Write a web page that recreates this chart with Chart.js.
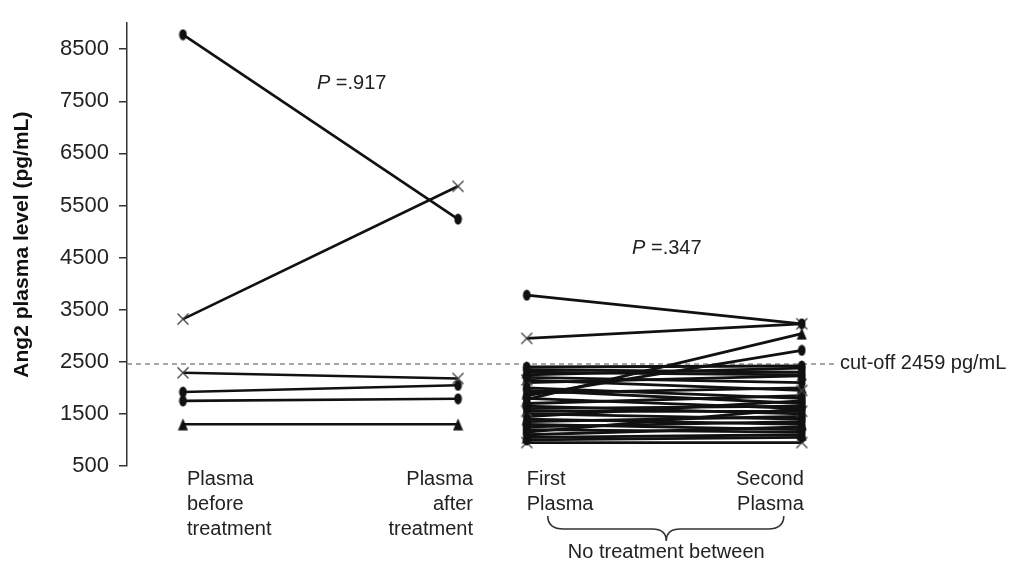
<!DOCTYPE html>
<html><head><meta charset="utf-8">
<script src="https://cdn.jsdelivr.net/npm/chart.js@4.4.1/dist/chart.umd.min.js"></script>
<style>html,body{margin:0;padding:0;background:#fff;}#wrap{width:1014px;height:569px;position:relative;}</style>
</head><body><div id="wrap"><canvas id="c"></canvas></div>
<script>
// ---- data ----
const yTicks = [500, 1500, 2500, 3500, 4500, 5500, 6500, 7500, 8500];
const timePoints = [0, 1, 1.25, 2.25]; // before, after, first, second
const catLabels = [['Plasma', 'before', 'treatment'], ['Plasma', 'after', 'treatment'], ['First', 'Plasma'], ['Second', 'Plasma']];
const cutoff = 2459;
const g1Before = [8780, 3320, 2290, 1920, 1750, 1300];
const g1After  = [5240, 5870, 2180, 2050, 1790, 1300];
const g1Markers = ['oval', 'cross', 'cross', 'oval', 'oval', 'triangle'];
const g2First  = [3780, 2950, 1780, 1850, 2400, 2350, 2300, 2250, 2200, 2150, 2100, 2000, 1950, 1900, 1800, 1700, 1650, 1600, 1550, 1500, 1450, 1400, 1350, 1300, 1250, 1200, 1150, 1100, 1050, 1000, 950];
const g2Second = [3230, 3230, 3040, 2720, 2420, 2300, 2250, 2380, 2100, 1950, 2230, 1800, 1700, 2000, 1600, 1850, 1500, 1650, 1550, 1400, 1750, 1300, 1450, 1200, 1350, 1150, 1600, 1250, 1100, 1050, 950];
const g2Markers = ['oval', 'cross', 'triangle', 'oval', 'oval', 'oval', 'triangle', 'oval', 'oval', 'cross', 'oval', 'oval', 'oval', 'triangle', 'oval', 'oval', 'oval', 'oval', 'cross', 'oval', 'oval', 'triangle', 'oval', 'oval', 'oval', 'oval', 'oval', 'oval', 'triangle', 'oval', 'cross'];
const pLabels = ['.917', '.347'];

// ---- marker images ----
function makeMarker(kind) {
  const c = document.createElement('canvas');
  if (kind === 'oval') {
    c.width = 9; c.height = 12;
    const g = c.getContext('2d');
    g.fillStyle = '#111';
    g.beginPath(); g.ellipse(4.5, 6, 3.8, 5.5, 0, 0, Math.PI * 2); g.fill();
  } else if (kind === 'triangle') {
    c.width = 11; c.height = 13;
    const g = c.getContext('2d');
    g.fillStyle = '#111';
    g.beginPath(); g.moveTo(5.5, 0.5); g.lineTo(10.5, 12.5); g.lineTo(0.5, 12.5); g.closePath(); g.fill();
  } else {
    c.width = 14; c.height = 14;
    const g = c.getContext('2d');
    g.strokeStyle = '#444'; g.lineWidth = 1.4;
    g.beginPath(); g.moveTo(1.5, 1.5); g.lineTo(12.5, 12.5); g.moveTo(12.5, 1.5); g.lineTo(1.5, 12.5); g.stroke();
  }
  return c;
}
const markerImgs = { oval: makeMarker('oval'), triangle: makeMarker('triangle'), cross: makeMarker('cross') };

const datasets = [];
g1Before.forEach((v, i) => datasets.push({
  data: [{ x: timePoints[0], y: v }, { x: timePoints[1], y: g1After[i] }],
  borderColor: '#111', borderWidth: 2.6, pointStyle: markerImgs[g1Markers[i]], pointRadius: 4, tension: 0
}));
g2First.forEach((v, i) => datasets.push({
  data: [{ x: timePoints[2], y: v }, { x: timePoints[3], y: g2Second[i] }],
  borderColor: '#111', borderWidth: 2.8, pointStyle: markerImgs[g2Markers[i]], pointRadius: 4, tension: 0
}));

const FONT = '"Liberation Sans", Arial, sans-serif';

const decor = {
  id: 'decor',
  beforeDatasetsDraw(chart) {
    const { ctx, chartArea, scales } = chart;
    const y = scales.y.getPixelForValue(cutoff);
    ctx.save();
    ctx.strokeStyle = '#8a8a8a'; ctx.lineWidth = 1.5; ctx.setLineDash([5, 4]);
    ctx.beginPath(); ctx.moveTo(chartArea.left, y); ctx.lineTo(chartArea.right, y); ctx.stroke();
    ctx.restore();
  },
  afterDraw(chart) {
    const { ctx, chartArea, scales } = chart;
    const xs = scales.x, ys = scales.y;
    ctx.save();
    ctx.fillStyle = '#222';
    ctx.font = '20px ' + FONT;
    ctx.textBaseline = 'middle';
    ctx.textAlign = 'left';
    ctx.fillText('cut-off ' + cutoff + ' pg/mL', chartArea.right + 4, ys.getPixelForValue(cutoff));

    // P values
    ctx.textBaseline = 'alphabetic';
    const pPos = [[0.487, 7740], [1.633, 4570]];
    pLabels.forEach((t, i) => {
      const px = xs.getPixelForValue(pPos[i][0]), py = ys.getPixelForValue(pPos[i][1]);
      ctx.font = 'italic 20px ' + FONT;
      ctx.fillText('P', px, py);
      const w = ctx.measureText('P').width;
      ctx.font = '20px ' + FONT;
      ctx.fillText(' =' + t, px + w, py);
    });

    // category labels
    const offs = [4, 15, 0, 2];
    const aligns = ['left', 'right', 'left', 'right'];
    ctx.font = '20px ' + FONT;
    catLabels.forEach((lines, i) => {
      ctx.textAlign = aligns[i];
      const px = xs.getPixelForValue(timePoints[i]) + offs[i];
      lines.forEach((l, j) => ctx.fillText(l, px, chartArea.bottom + 19 + j * 25));
    });

    // brace
    const x1 = xs.getPixelForValue(timePoints[2]) + 21;
    const x2 = xs.getPixelForValue(timePoints[3]) - 18;
    const xm = (xs.getPixelForValue(timePoints[2]) + xs.getPixelForValue(timePoints[3])) / 2 + 2;
    const yTop = chartArea.bottom + 50, yMid = chartArea.bottom + 63, yTip = chartArea.bottom + 75;
    ctx.strokeStyle = '#333'; ctx.lineWidth = 1.6;
    ctx.beginPath();
    ctx.moveTo(x1, yTop);
    ctx.quadraticCurveTo(x1, yMid, x1 + 16, yMid);
    ctx.lineTo(xm - 14, yMid);
    ctx.quadraticCurveTo(xm, yMid, xm, yTip);
    ctx.quadraticCurveTo(xm, yMid, xm + 14, yMid);
    ctx.lineTo(x2 - 16, yMid);
    ctx.quadraticCurveTo(x2, yMid, x2, yTop);
    ctx.stroke();
    ctx.textAlign = 'center';
    ctx.fillText('No treatment between', xm, chartArea.bottom + 92);
    ctx.restore();
  }
};

new Chart(document.getElementById('c'), {
  type: 'line',
  data: { datasets },
  plugins: [decor],
  options: {
    responsive: true, maintainAspectRatio: false, animation: false,
    layout: { padding: { left: 0, right: 178, top: 10, bottom: 103 } },
    plugins: { legend: { display: false }, tooltip: { enabled: false } },
    scales: {
      x: { type: 'linear', display: false, min: -0.2036, max: 2.3745 },
      y: {
        type: 'linear', min: 500, max: 9000,
        afterBuildTicks: s => { s.ticks = yTicks.map(v => ({ value: v })); },
        afterFit: s => { s.width = 127; },
        grid: { drawOnChartArea: false, drawTicks: true, tickLength: 8, color: '#333', lineWidth: 1.5 },
        border: { display: true, color: '#333', width: 1.5 },
        ticks: { color: '#222', padding: 10, font: { family: FONT, size: 22 }, callback: v => String(v) },
        title: { display: true, text: 'Ang2 plasma level (pg/mL)', color: '#111', padding: { top: 10, bottom: 0 }, font: { family: FONT, size: 21, weight: 'bold' } }
      }
    }
  }
});
</script></body></html>
